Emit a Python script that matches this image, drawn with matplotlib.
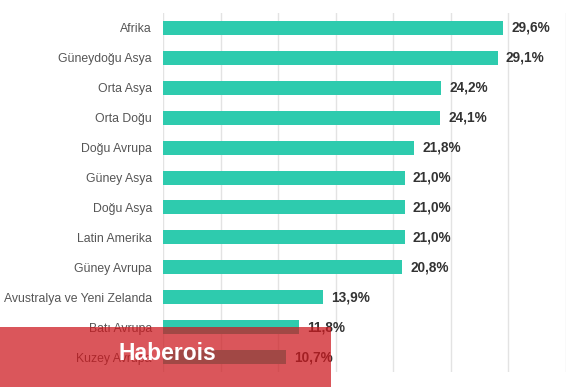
import matplotlib
matplotlib.use("Agg")
import matplotlib.pyplot as plt
from matplotlib.patches import Rectangle

categories = ["Afrika", "Güneydoğu Asya", "Orta Asya", "Orta Doğu", "Doğu Avrupa",
              "Güney Asya", "Doğu Asya", "Latin Amerika", "Güney Avrupa",
              "Avustralya ve Yeni Zelanda", "Batı Avrupa", "Kuzey Avrupa"]
values = [29.6, 29.1, 24.2, 24.1, 21.8, 21.0, 21.0, 21.0, 20.8, 13.9, 11.8, 10.7]
value_labels = ["29,6%", "29,1%", "24,2%", "24,1%", "21,8%", "21,0%", "21,0%",
                "21,0%", "20,8%", "13,9%", "11,8%", "10,7%"]
xticks = [0, 5, 10, 15, 20, 25, 30, 35]

plt.rcParams['font.family'] = ['Liberation Sans', 'DejaVu Sans']

fig = plt.figure(figsize=(5.8, 3.87), dpi=100)
ax = fig.add_axes([163/580, 1-372/387, (565.5-163)/580, (372-13)/387])

y = list(range(len(categories)))
ax.barh(y, values, height=0.47, color="#2ECBAE", zorder=2)
ax.set_ylim(len(categories)-0.5, -0.5)
ax.set_xlim(0, 35)
ax.set_xticks(xticks)
ax.set_xticklabels([])
ax.tick_params(axis='x', length=0)
ax.tick_params(axis='y', length=0, pad=8)
ax.set_yticks(y)
ax.set_yticklabels(categories, fontsize=8.8, color="#555555")
ax.grid(axis='x', color="#e3e3e3", linewidth=1, zorder=0)
for s in ax.spines.values():
    s.set_visible(False)

for yi, v, lab in zip(y, values, value_labels):
    ax.annotate(lab, (v, yi), xytext=(6, 0), textcoords="offset points",
                va="center", ha="left", fontsize=9.8, fontweight="bold", color="#333333")

banner = Rectangle((0, 0), 331/580, 60/387, transform=fig.transFigure,
                   facecolor=(205/255, 24/255, 30/255), alpha=0.73,
                   edgecolor="none", zorder=10)
fig.patches.append(banner)
fig.text(118/580, 1-354/387, "Haberois", color="white", fontsize=16.5,
         fontweight="bold", va="center", ha="left", zorder=11)

fig.savefig("out.png", dpi=100)
